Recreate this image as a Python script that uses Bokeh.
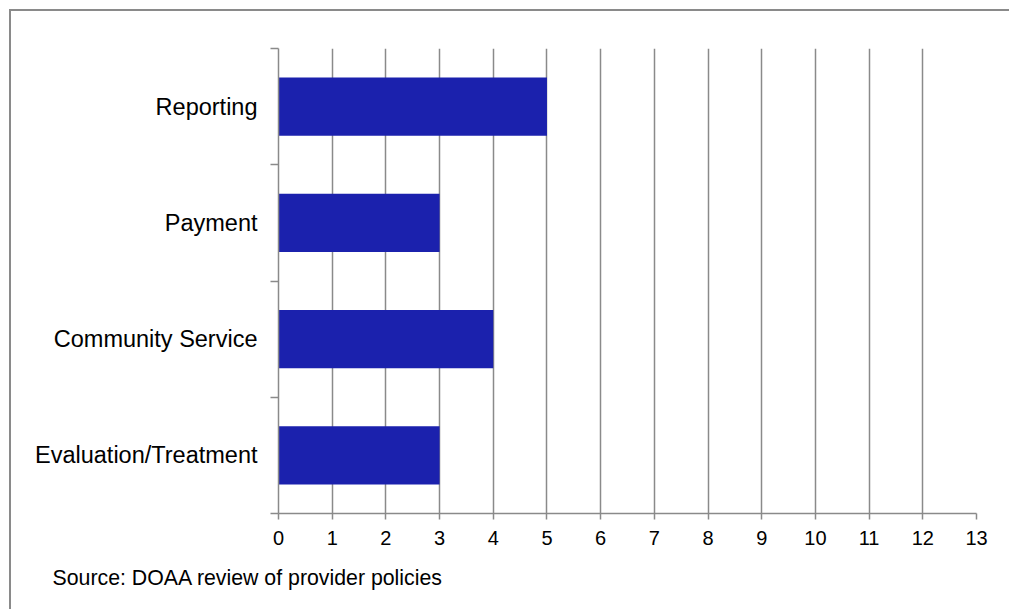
from bokeh.plotting import figure
from bokeh.models import FixedTicker, Title, Range1d
from bokeh.embed import file_html
from bokeh.resources import INLINE

categories = ["Reporting", "Payment", "Community Service", "Evaluation/Treatment"]
counts = [5, 3, 4, 3]
x_ticks = list(range(0, 14))
source_note = "Source: DOAA review of provider policies"

n = len(categories)
ypos = [n - i - 0.5 for i in range(n)]
boundaries = list(range(n + 1))

GRAY = "#8a8a8a"
FONT = "Liberation Sans"

p = figure(width=1000, height=600, x_range=Range1d(0, 13), y_range=Range1d(0, n),
           output_backend="svg", toolbar_location=None,
           min_border_left=267, min_border_right=35, min_border_top=37, min_border_bottom=98)
p.outline_line_color = None
p.background_fill_color = "white"
p.border_fill_color = "white"
p.styles = {"margin-left": "9px", "margin-top": "9px",
            "border-left": "2px solid #8a8a8a", "border-top": "2px solid #8a8a8a"}

p.hbar(y=ypos, left=0, right=counts, height=0.5, fill_color="#1b21ad", line_color=None)

# x axis
p.xaxis.ticker = FixedTicker(ticks=x_ticks)
p.xaxis.axis_line_color = GRAY
p.xaxis.axis_line_width = 1.5
p.xaxis.major_tick_line_color = GRAY
p.xaxis.major_tick_line_width = 1.5
p.xaxis.major_tick_in = 0
p.xaxis.major_tick_out = 6
p.xaxis.minor_tick_line_color = None
p.xaxis.major_label_text_font = FONT
p.xaxis.major_label_text_font_size = "20px"
p.xaxis.major_label_text_color = "black"
p.xaxis.major_label_standoff = 11

# y axis
p.yaxis.ticker = FixedTicker(ticks=ypos, minor_ticks=boundaries)
p.yaxis.major_label_overrides = {y: c for y, c in zip(ypos, categories)}
p.yaxis.axis_line_color = GRAY
p.yaxis.axis_line_width = 1.5
p.yaxis.major_tick_line_color = None
p.yaxis.major_tick_in = 0
p.yaxis.major_tick_out = 0
p.yaxis.minor_tick_line_color = GRAY
p.yaxis.minor_tick_line_width = 1.5
p.yaxis.minor_tick_in = 0
p.yaxis.minor_tick_out = 8
p.yaxis.major_label_text_font = FONT
p.yaxis.major_label_text_font_size = "23.5px"
p.yaxis.major_label_text_color = "black"
p.yaxis.major_label_standoff = 13

# grid
p.ygrid.grid_line_color = None
p.xgrid.ticker = FixedTicker(ticks=x_ticks)
p.xgrid.grid_line_color = GRAY
p.xgrid.grid_line_width = 1.5

p.add_layout(Title(text=source_note, align="left", offset=-226, standoff=32,
                   text_font=FONT, text_font_size="21.3px", text_font_style="normal",
                   text_color="black"), "below")

open("out.html", "w").write(file_html(p, INLINE))
